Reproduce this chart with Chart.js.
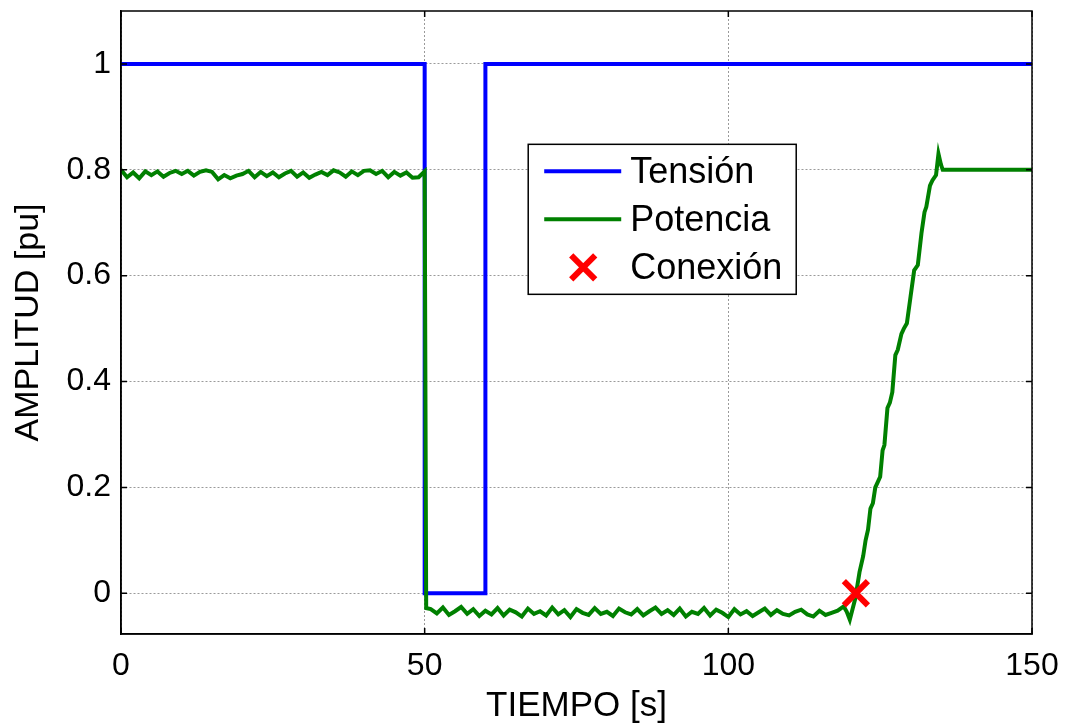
<!DOCTYPE html>
<html>
<head>
<meta charset="utf-8">
<script src="https://cdn.jsdelivr.net/npm/chart.js@4"></script>
<style>
  html, body { margin: 0; padding: 0; background: #fff; }
  #wrap { width: 1069px; height: 727px; }
</style>
</head>
<body>
<div id="wrap"><canvas id="c" width="1069" height="727"></canvas></div>
<script>
// axis ticks
const xTicks = [0, 50, 100, 150];
const yTicks = [0, 0.2, 0.4, 0.6, 0.8, 1];

// Tensión: step down at 50 s, back up at 60 s
const tensionTime = [0, 50, 50, 60, 60, 150];
const tensionValue = [1, 1, 0, 0, 1, 1];

// Potencia before the dip, one sample per second, t = 0..50
const powerHigh = [
  0.800, 0.786, 0.795, 0.784, 0.797, 0.790, 0.797, 0.787, 0.794, 0.798,
  0.792, 0.798, 0.789, 0.796, 0.799, 0.796, 0.782, 0.790, 0.784, 0.789,
  0.792, 0.798, 0.786, 0.796, 0.788, 0.795, 0.786, 0.793, 0.798, 0.787,
  0.795, 0.785, 0.791, 0.796, 0.790, 0.799, 0.795, 0.787, 0.797, 0.790,
  0.798, 0.799, 0.792, 0.798, 0.786, 0.796, 0.789, 0.795, 0.785, 0.786,
  0.797
];
// Potencia while disconnected, one sample per second, t = 51..119
const powerLow = [
  -0.030, -0.038, -0.027, -0.041, -0.034, -0.026, -0.039, -0.030, -0.043, -0.033,
  -0.040, -0.028, -0.042, -0.031, -0.036, -0.044, -0.029, -0.039, -0.034, -0.042,
  -0.027, -0.040, -0.032, -0.045, -0.030, -0.037, -0.041, -0.028, -0.039, -0.035,
  -0.043, -0.029, -0.036, -0.040, -0.030, -0.042, -0.034, -0.027, -0.039, -0.032,
  -0.041, -0.029, -0.044, -0.035, -0.039, -0.028, -0.042, -0.031, -0.037, -0.045,
  -0.030, -0.040, -0.034, -0.043, -0.036, -0.029, -0.041, -0.032, -0.039, -0.042,
  -0.035, -0.031, -0.040, -0.044, -0.033, -0.041, -0.037, -0.033, -0.025
];
// Potencia at the drop and during the reconnection ramp
const rampTime = [
  50.25, 119.5, 120.0, 120.9, 121.6, 122.2, 122.6, 123.0, 123.4, 123.8,
  124.2, 124.6, 125.0, 125.4, 125.7, 126.2, 126.6, 127.0, 127.5, 127.9,
  128.5, 128.9, 129.4, 130.0, 130.6, 131.2, 131.8, 132.3, 132.6, 133.2,
  133.6, 134.2, 134.6, 135.0, 135.3, 150
];
const rampPower = [
  -0.028, -0.035, -0.050, -0.010, 0.040, 0.070, 0.100, 0.120, 0.160, 0.170,
  0.200, 0.210, 0.220, 0.270, 0.280, 0.350, 0.360, 0.380, 0.450, 0.460,
  0.490, 0.500, 0.510, 0.560, 0.610, 0.620, 0.680, 0.720, 0.730, 0.770,
  0.780, 0.790, 0.830, 0.810, 0.800, 0.800
];

// reconnection instant
const connTime = [121];
const connValue = [0];

const FONT = 'Arial, "Liberation Sans", Helvetica, sans-serif';

const tensionPts = tensionTime.map((t, i) => ({ x: t, y: tensionValue[i] }));
const powerPts = []
  .concat(powerHigh.map((v, i) => ({ x: i, y: v })))
  .concat(powerLow.map((v, i) => ({ x: 51 + i, y: v })))
  .concat(rampTime.map((t, i) => ({ x: t, y: rampPower[i] })))
  .sort((a, b) => a.x - b.x);
const connPts = connTime.map((t, i) => ({ x: t, y: connValue[i] }));

// MATLAB-ish frame with inward ticks
const framePlugin = {
  id: 'frame',
  afterDraw(chart) {
    const { ctx, chartArea: a, scales } = chart;
    ctx.save();
    ctx.strokeStyle = '#000';
    ctx.lineWidth = 1.5;
    ctx.strokeRect(a.left, a.top, a.right - a.left, a.bottom - a.top);
    const tl = 6;
    ctx.beginPath();
    xTicks.forEach(v => {
      const px = scales.x.getPixelForValue(v);
      ctx.moveTo(px, a.bottom); ctx.lineTo(px, a.bottom - tl);
      ctx.moveTo(px, a.top); ctx.lineTo(px, a.top + tl);
    });
    yTicks.forEach(v => {
      const py = scales.y.getPixelForValue(v);
      ctx.moveTo(a.left, py); ctx.lineTo(a.left + tl, py);
      ctx.moveTo(a.right, py); ctx.lineTo(a.right - tl, py);
    });
    ctx.stroke();
    ctx.restore();
  }
};

// boxed legend inside the axes
const boxLegend = {
  id: 'boxLegend',
  afterDraw(chart) {
    const { ctx, chartArea: a } = chart;
    const w = a.right - a.left, hgt = a.bottom - a.top;
    const x0 = a.left + w * 0.447, y0 = a.top + hgt * 0.214;
    const bw = 268, bh = 150;
    ctx.save();
    ctx.fillStyle = '#fff';
    ctx.fillRect(x0, y0, bw, bh);
    ctx.strokeStyle = '#000';
    ctx.lineWidth = 1.5;
    ctx.strokeRect(x0, y0, bw, bh);
    ctx.font = '36px ' + FONT;
    ctx.textBaseline = 'middle';
    chart.data.datasets.forEach((ds, i) => {
      const cy = y0 + 27 + i * 48;
      if (ds.showLine) {
        ctx.strokeStyle = ds.borderColor;
        ctx.lineWidth = ds.borderWidth;
        ctx.beginPath();
        ctx.moveTo(x0 + 16, cy);
        ctx.lineTo(x0 + 93, cy);
        ctx.stroke();
      } else {
        const r = 12, cx = x0 + 55;
        ctx.strokeStyle = ds.borderColor;
        ctx.lineWidth = ds.borderWidth;
        ctx.beginPath();
        ctx.moveTo(cx - r, cy - r); ctx.lineTo(cx + r, cy + r);
        ctx.moveTo(cx + r, cy - r); ctx.lineTo(cx - r, cy + r);
        ctx.stroke();
      }
      ctx.fillStyle = '#000';
      ctx.fillText(ds.label, x0 + 102, cy + 2);
    });
    ctx.restore();
  }
};

new Chart(document.getElementById('c'), {
  type: 'scatter',
  data: {
    datasets: [
      {
        label: 'Tensión',
        data: tensionPts,
        showLine: true,
        borderColor: '#0000ff',
        borderWidth: 4,
        pointRadius: 0,
        order: 2
      },
      {
        label: 'Potencia',
        data: powerPts,
        showLine: true,
        borderColor: '#008000',
        borderWidth: 4,
        pointRadius: 0,
        order: 1
      },
      {
        label: 'Conexión',
        data: connPts,
        showLine: false,
        pointStyle: 'crossRot',
        pointRadius: 17,
        borderColor: '#ff0000',
        backgroundColor: '#ff0000',
        borderWidth: 6,
        order: 0
      }
    ]
  },
  options: {
    responsive: false,
    animation: false,
    layout: { autoPadding: false, padding: { top: 11, right: 37, left: 0, bottom: 0 } },
    plugins: {
      legend: { display: false },
      tooltip: { enabled: false }
    },
    scales: {
      x: {
        type: 'linear',
        min: 0,
        max: 150,
        afterBuildTicks: s => { s.ticks = xTicks.map(v => ({ value: v })); },
        afterFit: s => { s.height = 93; s.paddingLeft = 0; s.paddingRight = 0; },
        grid: { color: '#9a9a9a', drawTicks: false, lineWidth: 1 },
        border: { color: '#000', width: 1.5, dash: [2, 2] },
        ticks: { color: '#000', font: { family: FONT, size: 32 }, padding: 13, maxRotation: 0 },
        title: {
          display: true,
          text: 'TIEMPO [s]',
          color: '#000',
          font: { family: FONT, size: 35 },
          padding: { top: 0, bottom: 0 }
        }
      },
      y: {
        type: 'linear',
        min: -0.077,
        max: 1.1,
        afterBuildTicks: s => { s.ticks = yTicks.map(v => ({ value: v })); },
        afterFit: s => { s.width = 121; s.paddingTop = 0; s.paddingBottom = 0; },
        grid: { color: '#9a9a9a', drawTicks: false, lineWidth: 1 },
        border: { color: '#000', width: 1.5, dash: [2, 2] },
        ticks: {
          color: '#000',
          font: { family: FONT, size: 32 },
          padding: 10,
          callback: v => String(Math.round(v * 10) / 10)
        },
        title: {
          display: true,
          text: 'AMPLITUD [pu]',
          color: '#000',
          font: { family: FONT, size: 34 },
          padding: { top: 8, bottom: 0 }
        }
      }
    }
  },
  plugins: [framePlugin, boxLegend]
});
</script>
</body>
</html>
